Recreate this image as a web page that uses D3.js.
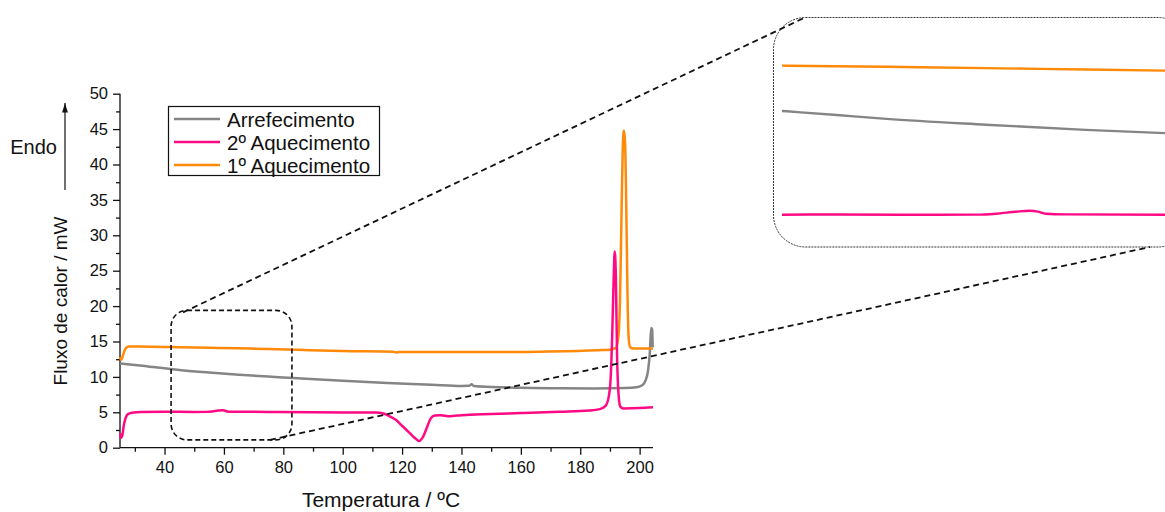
<!DOCTYPE html>
<html>
<head>
<meta charset="utf-8">
<script src="https://cdn.jsdelivr.net/npm/d3@7"></script>
<style>
  body { margin: 0; background: #fff; }
  svg { display: block; font-family: "Liberation Sans", Arial, sans-serif; }
</style>
</head>
<body>
<div id="chart"></div>
<script>
// Arrefecimento (cinzento)
var arrefT = [25, 30, 35, 40, 45, 55, 65, 75, 85, 100, 115, 130, 140, 142.6, 143.4, 144.2, 150, 160, 173, 185, 195, 199, 201, 202, 202.8, 203.4, 203.9, 204.2, 204.4];
var arrefV = [11.9, 11.68, 11.45, 11.22, 10.98, 10.62, 10.3, 10.05, 9.8, 9.45, 9.15, 8.9, 8.72, 8.74, 8.95, 8.7, 8.58, 8.45, 8.39, 8.36, 8.42, 8.55, 8.85, 9.5, 10.8, 13.2, 16.9, 16.7, 14.2];

// 2º Aquecimento (rosa)
var aq2T = [25, 25.4, 25.8, 26.3, 26.9, 27.7, 29, 32, 40, 50, 54, 56, 58, 59.4, 60.2, 61, 63, 75, 90, 100, 111, 114, 116, 118, 120, 122.5, 124.5, 125.7, 127, 128.5, 129.6, 131, 133, 136, 140, 150, 160, 173, 183, 186.6, 188.5, 189.5, 190.2, 190.7, 191.2, 191.6, 192, 192.4, 192.9, 193.5, 194.5, 200, 204.5];
var aq2V = [2.0, 1.4, 1.8, 3.2, 4.2, 4.75, 4.95, 5.05, 5.07, 5.05, 5.06, 5.12, 5.24, 5.3, 5.25, 5.12, 5.08, 5.05, 5.0, 4.98, 4.97, 4.8, 4.4, 3.9, 3.1, 2.1, 1.3, 0.95, 1.5, 3.0, 4.1, 4.55, 4.6, 4.45, 4.6, 4.76, 4.9, 5.09, 5.25, 5.45, 5.9, 7, 9.5, 15, 23, 27.7, 24, 13, 7.5, 5.8, 5.55, 5.6, 5.7];

// 1º Aquecimento (laranja)
var aq1T = [25, 25.4, 25.9, 26.5, 27.2, 28, 35, 45, 55, 65, 75, 85, 100, 117, 118, 119, 130, 150, 170, 186, 190, 192, 192.8, 193.4, 193.9, 194.3, 194.7, 195.1, 195.5, 195.9, 196.3, 196.8, 198, 204.5];
var aq1V = [12.8, 12.4, 12.9, 13.7, 14.15, 14.28, 14.27, 14.2, 14.12, 14.03, 13.95, 13.82, 13.65, 13.55, 13.45, 13.52, 13.5, 13.5, 13.6, 13.78, 13.85, 14.1, 15.5, 21, 33, 42, 44.8, 43, 34, 22, 15.5, 14.2, 14.0, 14.0];

var seriesNames = ["Arrefecimento", "2º Aquecimento", "1º Aquecimento"];
var seriesColors = ["#858585", "#ff0a84", "#ff8a0a"];

var xTicks = [40, 60, 80, 100, 120, 140, 160, 180, 200];
var yTicks = [0, 5, 10, 15, 20, 25, 30, 35, 40, 45, 50];

// zoomed window (temperature / flow) and the region shown in the inset
var zoomWin = { t0: 42.2, t1: 82.9, v0: 1.1, v1: 19.4 };
var insetT = [34.5, 75.5];
var insetV = [4, 16];

var width = 1165;
var height = 512;

var svg = d3.select("#chart")
  .append("svg")
  .attr("width", width)
  .attr("height", height);

var x = d3.scaleLinear().domain([25, 204.5]).range([120, 653]);
var y = d3.scaleLinear().domain([0, 50]).range([447.7, 93.7]);

var toSeries = function(ts, vs) {
  return ts.map(function(t, i) { return { t: t, v: vs[i] }; });
};
var series = [
  toSeries(arrefT, arrefV),
  toSeries(aq2T, aq2V),
  toSeries(aq1T, aq1V)
];
var drawOrder = [0, 2, 1];

// axes
var xAxis = svg.append("g")
  .attr("transform", "translate(0," + y(0) + ")")
  .call(d3.axisBottom(x).tickValues(xTicks).tickSize(7).tickPadding(7).tickFormat(d3.format("d")));
xAxis.select(".domain").attr("d", "M" + x.range()[0] + ",0H" + x.range()[1]);
xAxis.selectAll(".tick text").style("font-size", "16.5px").attr("fill", "#111");
svg.append("g")
  .attr("transform", "translate(0," + y(0) + ")")
  .call(d3.axisBottom(x).tickValues(d3.range(30, 205, 20)).tickSize(4).tickFormat(""))
  .select(".domain").remove();

var yAxis = svg.append("g")
  .attr("transform", "translate(" + x(25) + ",0)")
  .call(d3.axisLeft(y).tickValues(yTicks).tickSize(7).tickPadding(5));
yAxis.select(".domain").attr("d", "M0," + y(0) + "V" + y(50));
yAxis.selectAll(".tick text").style("font-size", "16.5px").attr("fill", "#111");
svg.append("g")
  .attr("transform", "translate(" + x(25) + ",0)")
  .call(d3.axisLeft(y).tickValues(d3.range(2.5, 50, 5)).tickSize(4).tickFormat(""))
  .select(".domain").remove();

svg.selectAll(".domain, .tick line").attr("stroke", "#111").attr("stroke-width", 1.3);

// axis titles
svg.append("text")
  .attr("x", 381)
  .attr("y", 507)
  .attr("text-anchor", "middle")
  .style("font-size", "21px")
  .attr("fill", "#111")
  .text("Temperatura / ºC");

svg.append("text")
  .attr("transform", "translate(67,301) rotate(-90)")
  .attr("text-anchor", "middle")
  .style("font-size", "19px")
  .attr("fill", "#111")
  .text("Fluxo de calor / mW");

// Endo arrow
svg.append("defs").append("marker")
  .attr("id", "arrow")
  .attr("viewBox", "0 0 10 10")
  .attr("refX", 10)
  .attr("refY", 5)
  .attr("markerWidth", 8)
  .attr("markerHeight", 8)
  .attr("orient", "auto")
  .append("path")
  .attr("d", "M0,2 L10,5 L0,8 Z")
  .attr("fill", "#111");

svg.append("line")
  .attr("x1", 65).attr("x2", 65)
  .attr("y1", 190).attr("y2", 103)
  .attr("stroke", "#111")
  .attr("stroke-width", 1.2)
  .attr("marker-end", "url(#arrow)");

svg.append("text")
  .attr("x", 57)
  .attr("y", 154)
  .attr("text-anchor", "end")
  .style("font-size", "20px")
  .attr("fill", "#111")
  .text("Endo");

// curves
var line = d3.line()
  .x(function(d) { return x(d.t); })
  .y(function(d) { return y(d.v); })
  .curve(d3.curveMonotoneX);

svg.append("g")
  .selectAll("path")
  .data(drawOrder)
  .enter()
  .append("path")
  .attr("d", function(i) { return line(series[i]); })
  .attr("fill", "none")
  .attr("stroke", function(i) { return seriesColors[i]; })
  .attr("stroke-width", 2.5)
  .attr("stroke-linejoin", "round");

// legend
var legend = svg.append("g");
legend.append("rect")
  .attr("x", 168.5).attr("y", 106.5)
  .attr("width", 211).attr("height", 69)
  .attr("fill", "#fff")
  .attr("stroke", "#111")
  .attr("stroke-width", 1.2);

var item = legend.selectAll(".item")
  .data(seriesNames)
  .enter()
  .append("g")
  .attr("class", "item")
  .attr("transform", function(d, i) { return "translate(0," + (119 + i * 23) + ")"; });
item.append("line")
  .attr("x1", 174).attr("x2", 220)
  .attr("stroke", function(d, i) { return seriesColors[i]; })
  .attr("stroke-width", 2.5);
item.append("text")
  .attr("x", 227)
  .attr("y", 7.5)
  .style("font-size", "20.5px")
  .attr("fill", "#111")
  .text(function(d) { return d; });

// zoom box on main plot
var bx0 = x(zoomWin.t0), bx1 = x(zoomWin.t1);
var by0 = y(zoomWin.v1), by1 = y(zoomWin.v0);
svg.append("rect")
  .attr("x", bx0).attr("y", by0)
  .attr("width", bx1 - bx0).attr("height", by1 - by0)
  .attr("rx", 16).attr("ry", 16)
  .attr("fill", "none")
  .attr("stroke", "#111")
  .attr("stroke-width", 1.6)
  .attr("stroke-dasharray", "5,3");

// inset
var ix = d3.scaleLinear().domain(insetT).range([782, 1190]);
var iy = d3.scaleLinear().domain(insetV).range([231.8, 37.7]);
var inX0 = 773.5, inY0 = 17.5, inX1 = 1190, inY1 = 247;

svg.append("clipPath")
  .attr("id", "insetClip")
  .append("rect")
  .attr("x", ix(insetT[0])).attr("y", inY0)
  .attr("width", inX1 - ix(insetT[0])).attr("height", inY1 - inY0);

var insetLine = d3.line()
  .x(function(d) { return ix(d.t); })
  .y(function(d) { return iy(d.v); })
  .curve(d3.curveMonotoneX);

svg.append("g")
  .attr("clip-path", "url(#insetClip)")
  .selectAll("path")
  .data(drawOrder)
  .enter()
  .append("path")
  .attr("d", function(i) {
    return insetLine(series[i].filter(function(d) { return d.t >= insetT[0] - 8 && d.t <= insetT[1] + 8; }));
  })
  .attr("fill", "none")
  .attr("stroke", function(i) { return seriesColors[i]; })
  .attr("stroke-width", 2.4);

svg.append("rect")
  .attr("x", inX0).attr("y", inY0)
  .attr("width", inX1 - inX0).attr("height", inY1 - inY0)
  .attr("rx", 32).attr("ry", 32)
  .attr("fill", "none")
  .attr("stroke", "#333")
  .attr("stroke-width", 1)
  .attr("stroke-dasharray", "2,1");

// connecting lines
svg.append("line")
  .attr("x1", bx0 + 12).attr("y1", by0 + 2)
  .attr("x2", 805).attr("y2", inY0)
  .attr("stroke", "#111").attr("stroke-width", 1.8)
  .attr("stroke-dasharray", "6,4");
svg.append("line")
  .attr("x1", bx1 - 22).attr("y1", by1)
  .attr("x2", 1150).attr("y2", inY1)
  .attr("stroke", "#111").attr("stroke-width", 1.8)
  .attr("stroke-dasharray", "6,4");
</script>
</body>
</html>
